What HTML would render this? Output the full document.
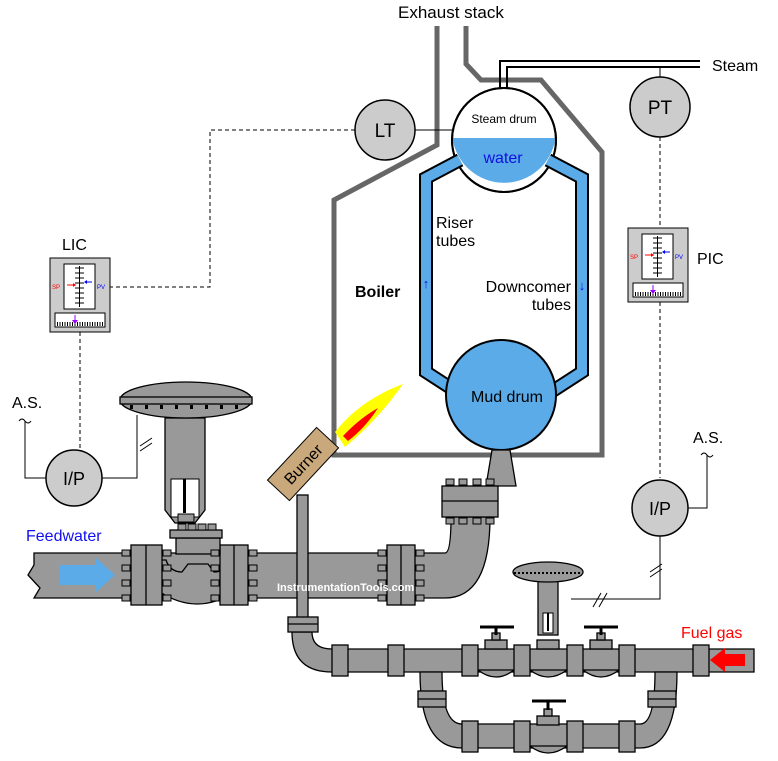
<!DOCTYPE html>
<html><head><meta charset="utf-8"><style>
body{margin:0;background:#fff}
svg{display:block}
text{font-family:"Liberation Sans",Arial,sans-serif}
</style></head><body>
<svg width="778" height="761" viewBox="0 0 778 761" xmlns="http://www.w3.org/2000/svg">
<defs>
<g id="bh"><rect x="-4" y="-3" width="8" height="6" fill="#999" stroke="#000" stroke-width="1"/></g>
</defs>
<text x="398" y="18" font-size="17">Exhaust stack</text>
<g fill="none" stroke="#666" stroke-width="5">
<polyline points="437,26 437,145 334,200 334,455 602,455 602,152 541,80 481,80 466,64 466,26"/>
</g>
<g fill="none" stroke="#000" stroke-width="2">
<polyline points="500,90 500,61 700,61"/>
<polyline points="507,90 507,67 700,67"/>
</g>
<text x="712" y="71" font-size="16">Steam</text>
<circle cx="504" cy="140" r="52" fill="#fff" stroke="#000" stroke-width="2"/>
<path d="M452.5,138 L555.5,138 A52,52 0 0 1 452.5,138 Z" fill="#5aabe8"/>
<circle cx="504" cy="140" r="52" fill="none" stroke="#000" stroke-width="2"/>
<text x="504" y="123" font-size="12" text-anchor="middle">Steam drum</text>
<text x="503" y="163" font-size="16" fill="#1010e0" text-anchor="middle">water</text>
<g fill="none" stroke-linejoin="miter">
<polyline points="460,160 426,178 426,372 460,394" stroke="#000" stroke-width="14"/>
<polyline points="548,160 582,178 582,372 548,394" stroke="#000" stroke-width="14"/>
<polyline points="460,160 426,178 426,372 460,394" stroke="#5aabe8" stroke-width="10"/>
<polyline points="548,160 582,178 582,372 548,394" stroke="#5aabe8" stroke-width="10"/>
</g>
<circle cx="501" cy="395" r="55" fill="#5aabe8" stroke="#000" stroke-width="2"/>
<text x="507" y="402" font-size="16" text-anchor="middle">Mud drum</text>
<text x="436" y="228" font-size="16">Riser</text>
<text x="436" y="246" font-size="16">tubes</text>
<text x="571" y="292" font-size="16" text-anchor="end">Downcomer</text>
<text x="571" y="310" font-size="16" text-anchor="end">tubes</text>
<text x="355" y="297" font-size="16" font-weight="bold">Boiler</text>
<text x="426" y="288" font-size="13" fill="#1010e0" text-anchor="middle">↑</text>
<text x="582" y="290" font-size="13" fill="#1010e0" text-anchor="middle">↓</text>
<line x1="415" y1="130" x2="452" y2="130" stroke="#000"/>
<circle cx="385" cy="130" r="30" fill="#ccc" stroke="#000" stroke-width="1.5"/>
<text x="385" y="137" font-size="19" text-anchor="middle">LT</text>
<polyline points="355,130 210,130 210,287 110,287" fill="none" stroke="#000" stroke-dasharray="4,3"/>
<line x1="660" y1="67" x2="660" y2="77" stroke="#000"/>
<circle cx="660" cy="107" r="30" fill="#ccc" stroke="#000" stroke-width="1.5"/>
<text x="660" y="114" font-size="19" text-anchor="middle">PT</text>
<line x1="660" y1="137" x2="660" y2="228" stroke="#000" stroke-dasharray="4,3"/>
<line x1="660" y1="302" x2="660" y2="478" stroke="#000" stroke-dasharray="4,3"/>
<g id="ctl">
<rect x="50" y="258" width="60" height="74" fill="#ccc" stroke="#000"/>
<rect x="64" y="264" width="31" height="45" fill="#fff" stroke="#000"/>
<line x1="79.5" y1="266" x2="79.5" y2="307" stroke="#000"/>
<g stroke="#000"><line x1="75" y1="268" x2="84" y2="268"/><line x1="75" y1="273" x2="84" y2="273"/><line x1="75" y1="278" x2="84" y2="278"/><line x1="75" y1="283" x2="84" y2="283"/><line x1="75" y1="288" x2="84" y2="288"/><line x1="75" y1="293" x2="84" y2="293"/><line x1="75" y1="298" x2="84" y2="298"/><line x1="75" y1="303" x2="84" y2="303"/></g>
<text x="52" y="289" font-size="6" fill="#f00">SP</text>
<path d="M67,285 L76,285" stroke="#f00"/><path d="M76,285 l-3,-2 v4z" fill="#f00"/>
<text x="97" y="289" font-size="6" fill="#00f">PV</text>
<path d="M85,282 L92,282" stroke="#00f"/><path d="M84,282 l3,-2 v4z" fill="#00f"/>
<rect x="55" y="313" width="50" height="14" fill="#fff" stroke="#000"/>
<line x1="57" y1="324" x2="103" y2="324" stroke="#000" stroke-dasharray="1,1.5" stroke-width="4"/>
<path d="M75,315 v7" stroke="#90f"/><path d="M72,320 l3,4 l3,-4z" fill="#90f"/>
</g>
<use href="#ctl" transform="translate(578,-30)"/>
<text x="62" y="250" font-size="16">LIC</text>
<text x="697" y="264" font-size="16">PIC</text>
<line x1="80" y1="332" x2="80" y2="450" stroke="#000" stroke-dasharray="4,3"/>
<text x="12" y="408" font-size="16">A.S.</text>
<path d="M19,421 q3,-4 6,0 q3,4 6,0" fill="none" stroke="#000"/>
<polyline points="25,421 25,478 46,478" fill="none" stroke="#000"/>
<polyline points="102,478 137,478 137,415" fill="none" stroke="#000"/>
<line x1="140" y1="446" x2="152" y2="438" stroke="#000"/><line x1="140" y1="451" x2="152" y2="443" stroke="#000"/>
<circle cx="74" cy="478" r="28" fill="#ccc" stroke="#000" stroke-width="1.5"/>
<text x="74" y="485" font-size="18" text-anchor="middle">I/P</text>
<text x="693" y="443" font-size="16">A.S.</text>
<path d="M701,455 q3,-4 6,0 q3,4 6,0" fill="none" stroke="#000"/>
<polyline points="707,455 707,508 688,508" fill="none" stroke="#000"/>
<polyline points="660,536 660,599 571,599" fill="none" stroke="#000"/>
<line x1="650" y1="572" x2="662" y2="564" stroke="#000"/><line x1="650" y1="577" x2="662" y2="569" stroke="#000"/>
<line x1="593" y1="607" x2="601" y2="593" stroke="#000"/><line x1="599" y1="607" x2="607" y2="593" stroke="#000"/>
<circle cx="660" cy="508" r="28" fill="#ccc" stroke="#000" stroke-width="1.5"/>
<text x="660" y="515" font-size="18" text-anchor="middle">I/P</text>

<g fill="#999" stroke="#000" stroke-width="1.3">
<path d="M34,553 L445,553 Q451,553 451,517 L490,517 Q490,598 445,598 L34,598 L40,588 L28,575 L34,565 Z"/>
<path d="M160,560 L166,560 Q170,572 182,572 L188,564 L208,564 L214,572 Q226,572 230,560 L235,560 L235,592 Q197,616 160,592 Z"/>
<path d="M492,450 L510,450 L516,486 L486,486 Z"/>
<rect x="442" y="486" width="56" height="31"/>
<line x1="442" y1="501" x2="498" y2="501"/>
<rect x="131" y="545" width="31" height="60"/><line x1="146" y1="545" x2="146" y2="605"/>
<rect x="220" y="545" width="28" height="60"/><line x1="234" y1="545" x2="234" y2="605"/>
<rect x="387" y="545" width="28" height="60"/><line x1="401" y1="545" x2="401" y2="605"/>
<path d="M165,418 L205,418 L205,510 L195,523 L175,523 L165,510 Z"/>
<rect x="176" y="538" width="44" height="16"/>
<rect x="170" y="530" width="52" height="8"/>
<ellipse cx="186" cy="400" rx="66" ry="18"/>
<rect x="120" y="397" width="132" height="7"/>
</g>
<rect x="171" y="479" width="28" height="38" fill="#fff" stroke="#000"/>
<rect x="183" y="479" width="3" height="34" fill="#000"/>
<rect x="178" y="514" width="16" height="8" fill="#999" stroke="#000"/>
<g>
<use href="#bh" x="126" y="553"/><use href="#bh" x="126" y="568"/><use href="#bh" x="126" y="583"/><use href="#bh" x="126" y="598"/>
<use href="#bh" x="167" y="553"/><use href="#bh" x="167" y="568"/><use href="#bh" x="167" y="583"/><use href="#bh" x="167" y="598"/>
<use href="#bh" x="215" y="553"/><use href="#bh" x="215" y="568"/><use href="#bh" x="215" y="583"/><use href="#bh" x="215" y="598"/>
<use href="#bh" x="253" y="553"/><use href="#bh" x="253" y="568"/><use href="#bh" x="253" y="583"/><use href="#bh" x="253" y="598"/>
<use href="#bh" x="382" y="553"/><use href="#bh" x="382" y="568"/><use href="#bh" x="382" y="583"/><use href="#bh" x="382" y="598"/>
<use href="#bh" x="420" y="553"/><use href="#bh" x="420" y="568"/><use href="#bh" x="420" y="583"/><use href="#bh" x="420" y="598"/>
<use href="#bh" x="450" y="482"/><use href="#bh" x="463" y="482"/><use href="#bh" x="477" y="482"/><use href="#bh" x="490" y="482"/>
<use href="#bh" x="450" y="521"/><use href="#bh" x="463" y="521"/><use href="#bh" x="477" y="521"/><use href="#bh" x="490" y="521"/>
<use href="#bh" x="182" y="527"/><use href="#bh" x="192" y="527"/><use href="#bh" x="202" y="527"/><use href="#bh" x="212" y="527"/>
</g>
<g fill="#000"><rect x="130" y="405" width="3" height="4"/><rect x="145" y="405" width="3" height="4"/><rect x="160" y="405" width="3" height="4"/><rect x="175" y="405" width="3" height="4"/><rect x="190" y="405" width="3" height="4"/><rect x="205" y="405" width="3" height="4"/><rect x="220" y="405" width="3" height="4"/><rect x="235" y="405" width="3" height="4"/></g>
<path d="M60,565 L96,565 L96,558 L115,575 L96,592 L96,585 L60,585 Z" fill="#5aabe8"/>
<text x="26" y="541" font-size="16" fill="#1010f0">Feedwater</text>

<g fill="#999" stroke="#000" stroke-width="1.3">
<rect x="297" y="495" width="11" height="125"/>
<path d="M292,632 Q292,672 332,672 L740,672 L754,672 L754,649 L332,649 Q312,649 312,632 Z"/>
<path d="M420,672 Q420,748 462,748 L640,748 Q677,748 677,672 L655,672 Q655,724 640,724 L462,724 Q442,724 442,672 Z"/>
<path d="M478,670 Q496,684 514,670 Z"/><path d="M530,670 Q548,684 567,670 Z"/><path d="M583,670 Q601,684 619,670 Z"/><path d="M530,746 Q548,760 567,746 Z"/>
<rect x="288" y="617" width="30" height="15"/><line x1="288" y1="624" x2="318" y2="624"/>
<rect x="418" y="691" width="28" height="16"/><line x1="418" y1="699" x2="446" y2="699"/>
<rect x="648" y="691" width="28" height="16"/><line x1="648" y1="699" x2="676" y2="699"/>
<rect x="332" y="645" width="16" height="31"/><rect x="388" y="645" width="16" height="31"/>
<rect x="462" y="645" width="16" height="31"/><rect x="514" y="645" width="16" height="31"/>
<rect x="567" y="645" width="16" height="31"/><rect x="619" y="645" width="16" height="31"/>
<rect x="693" y="645" width="16" height="31"/>
<rect x="462" y="721" width="16" height="31"/><rect x="514" y="721" width="16" height="31"/>
<rect x="567" y="721" width="16" height="31"/><rect x="619" y="721" width="16" height="31"/>
<rect x="485" y="640" width="22" height="9"/><rect x="492" y="633" width="8" height="7"/>
<rect x="590" y="640" width="22" height="9"/><rect x="597" y="633" width="8" height="7"/>
<rect x="537" y="716" width="22" height="9"/><rect x="544" y="709" width="8" height="7"/>
<rect x="538" y="580" width="20" height="55"/>
<rect x="537" y="640" width="22" height="9"/>
<ellipse cx="548" cy="572" rx="35" ry="10"/>
</g>
<rect x="543" y="613" width="10" height="20" fill="#fff" stroke="#000"/>
<rect x="547" y="613" width="2" height="18" fill="#000"/>
<line x1="514" y1="573" x2="582" y2="573" stroke="#000" stroke-width="2" stroke-dasharray="2,2"/>
<g stroke="#000" stroke-width="3">
<line x1="480" y1="627" x2="514" y2="627"/><line x1="496" y1="627" x2="496" y2="635"/>
<line x1="584" y1="627" x2="618" y2="627"/><line x1="601" y1="627" x2="601" y2="635"/>
<line x1="532" y1="701" x2="566" y2="701"/><line x1="548" y1="701" x2="548" y2="710"/>
</g>
<path d="M745,654 L725,654 L725,648 L710,660 L725,672 L725,666 L745,666 Z" fill="#f00"/>
<text x="681" y="638" font-size="16" fill="#f00">Fuel gas</text>
<text x="277" y="591" font-size="11" fill="#fff" font-weight="bold">InstrumentationTools.com</text>
<path d="M335,432 Q360,400 403,384 Q378,420 345,447 Z" fill="#ffff00"/>
<path d="M343,436 Q360,418 378,408 Q365,428 348,441 Z" fill="#f00"/>
<g transform="translate(303,464) rotate(-47)">
<rect x="-36" y="-15" width="72" height="30" fill="#c9a87c" stroke="#000"/>
<text x="0" y="6" font-size="16" text-anchor="middle">Burner</text>
</g>
</svg>
</body></html>
